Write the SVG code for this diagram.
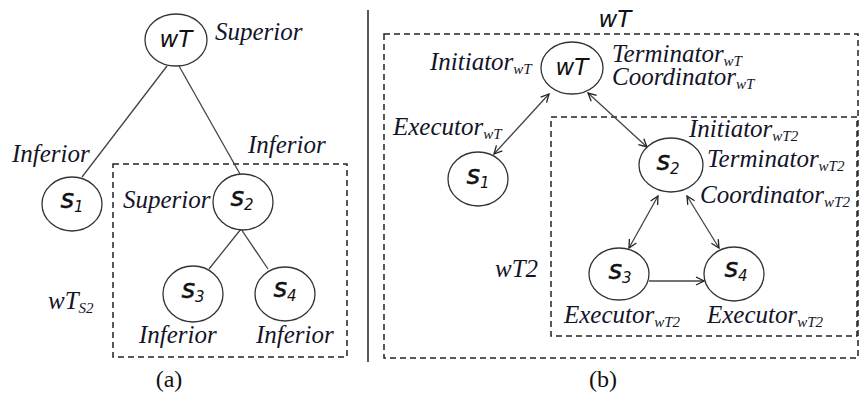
<svg xmlns="http://www.w3.org/2000/svg" width="861" height="396" viewBox="0 0 861 396">
<style>
.bg{fill:#fff}
.node{fill:#fff;stroke:#333;stroke-width:1.3}
.edge{stroke:#444;stroke-width:1.3;fill:none}
.box{fill:none;stroke:#222;stroke-width:1.5;stroke-dasharray:6 4}
.lab{font-family:"Liberation Serif","Times New Roman",serif;font-style:italic;font-size:25px;fill:#141428}
.sub{font-size:15px}
.nl{font-family:Verdana,"DejaVu Sans",sans-serif;font-style:italic;font-size:23px;fill:#111;text-anchor:middle}
.ss{font-size:26px;stroke:#111;stroke-width:0.5}
.ns{font-size:15px;stroke:none}
.cap{font-family:"Liberation Serif","Times New Roman",serif;font-size:24px;fill:#111;text-anchor:middle}
</style>
<defs>
<marker id="ah" viewBox="0 0 10 10" refX="9" refY="5" markerWidth="10" markerHeight="10" markerUnits="userSpaceOnUse" orient="auto-start-reverse">
<path d="M1,1 L9,5 L1,9" fill="none" stroke="#222" stroke-width="1.3"/>
</marker>
</defs>
<rect class="bg" x="0" y="0" width="861" height="396"/>

<!-- divider -->
<line x1="368" y1="10" x2="368" y2="362" stroke="#222" stroke-width="1.5"/>

<!-- (a) -->
<g id="a-box"><rect class="box" x="113" y="164" width="234" height="193"/></g>
<g id="a-connectors">
<line class="edge" x1="167" y1="66" x2="82" y2="177"/>
<line class="edge" x1="179" y1="66" x2="240" y2="174"/>
<line class="edge" x1="241" y1="229" x2="209" y2="269"/>
<line class="edge" x1="241" y1="229" x2="268" y2="269"/>
</g>
<g id="a-wT"><ellipse class="node" cx="176" cy="40" rx="31" ry="26"/><text class="nl" x="176" y="47">wT</text></g>
<g id="a-s1"><ellipse class="node" cx="72" cy="204" rx="30" ry="27"/><text class="nl ss" x="72" y="208">s<tspan class="ns" dy="4">1</tspan></text></g>
<g id="a-s2"><ellipse class="node" cx="243" cy="202" rx="30" ry="28"/><text class="nl ss" x="242" y="206">s<tspan class="ns" dy="4">2</tspan></text></g>
<g id="a-s3"><ellipse class="node" cx="193" cy="294" rx="30" ry="28"/><text class="nl ss" x="193" y="298">s<tspan class="ns" dy="4">3</tspan></text></g>
<g id="a-s4"><ellipse class="node" cx="285" cy="294" rx="30" ry="27"/><text class="nl ss" x="285" y="297">s<tspan class="ns" dy="4">4</tspan></text></g>
<g id="a-labels">
<text class="lab" x="215" y="40">Superior</text>
<text class="lab" x="12" y="162">Inferior</text>
<text class="lab" x="248" y="153">Inferior</text>
<text class="lab" x="123" y="208">Superior</text>
<text class="lab" x="139" y="343">Inferior</text>
<text class="lab" x="256" y="343">Inferior</text>
<text class="lab" x="48" y="309">wT<tspan class="sub" dy="4">S2</tspan></text>
<text class="cap" x="169" y="387">(a)</text>
</g>

<!-- (b) -->
<g id="b-boxes">
<rect class="box" x="384" y="34" width="474" height="324"/>
<rect class="box" x="551" y="117" width="306" height="219"/>
</g>
<g id="b-connectors">
<line class="edge" x1="494" y1="154" x2="549" y2="94" marker-start="url(#ah)" marker-end="url(#ah)"/>
<line class="edge" x1="588" y1="93" x2="647" y2="147" marker-start="url(#ah)" marker-end="url(#ah)"/>
<line class="edge" x1="658" y1="196" x2="629" y2="248" marker-start="url(#ah)" marker-end="url(#ah)"/>
<line class="edge" x1="687" y1="196" x2="719" y2="248" marker-start="url(#ah)" marker-end="url(#ah)"/>
<line class="edge" x1="649" y1="281" x2="704" y2="281" marker-end="url(#ah)"/>
</g>
<g id="b-wT"><ellipse class="node" cx="572" cy="68" rx="31" ry="26"/><text class="nl" x="572" y="75">wT</text></g>
<g id="b-s1"><ellipse class="node" cx="478" cy="179" rx="30" ry="27"/><text class="nl ss" x="478" y="184">s<tspan class="ns" dy="4">1</tspan></text></g>
<g id="b-s2"><ellipse class="node" cx="671" cy="165" rx="32" ry="27"/><text class="nl ss" x="668" y="170">s<tspan class="ns" dy="4">2</tspan></text></g>
<g id="b-s3"><ellipse class="node" cx="619" cy="274" rx="30" ry="26"/><text class="nl ss" x="620" y="279">s<tspan class="ns" dy="4">3</tspan></text></g>
<g id="b-s4"><ellipse class="node" cx="734" cy="274" rx="30" ry="27"/><text class="nl ss" x="736" y="277">s<tspan class="ns" dy="4">4</tspan></text></g>
<g id="b-labels">
<text class="nl" x="615" y="27">wT</text>
<text class="lab" x="430" y="70">Initiator<tspan class="sub" dy="4">wT</tspan></text>
<text class="lab" x="612" y="62">Terminator<tspan class="sub" dy="4">wT</tspan></text>
<text class="lab" x="612" y="85">Coordinator<tspan class="sub" dy="4">wT</tspan></text>
<text class="lab" x="393" y="135">Executor<tspan class="sub" dy="4">wT</tspan></text>
<text class="lab" x="689" y="137">Initiator<tspan class="sub" dy="4">wT2</tspan></text>
<text class="lab" x="707" y="167">Terminator<tspan class="sub" dy="4">wT2</tspan></text>
<text class="lab" x="700" y="203">Coordinator<tspan class="sub" dy="4">wT2</tspan></text>
<text class="lab" x="495" y="277">wT2</text>
<text class="lab" x="564" y="323">Executor<tspan class="sub" dy="4">wT2</tspan></text>
<text class="lab" x="707" y="323">Executor<tspan class="sub" dy="4">wT2</tspan></text>
<text class="cap" x="603" y="387">(b)</text>
</g>
</svg>
